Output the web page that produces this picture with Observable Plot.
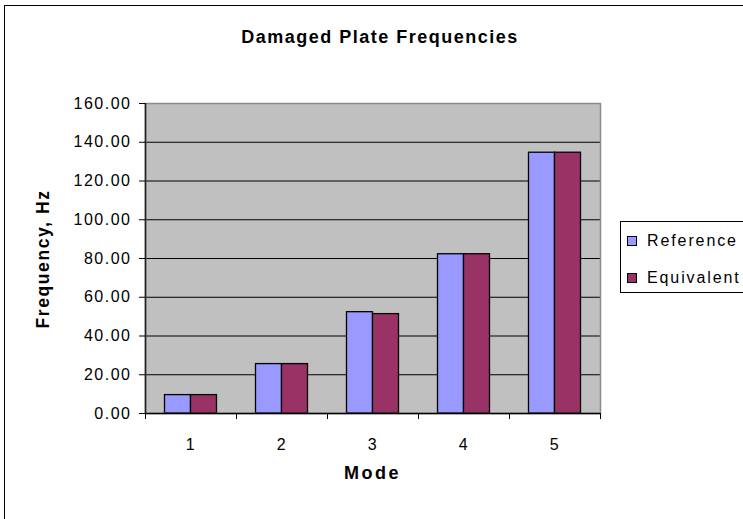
<!DOCTYPE html>
<html>
<head>
<meta charset="utf-8">
<script src="https://cdn.jsdelivr.net/npm/d3@7"></script>
<script src="https://cdn.jsdelivr.net/npm/@observablehq/plot@0.6"></script>
<style>
  html, body { margin: 0; padding: 0; background: #fff; }
  #wrap { position: relative; width: 743px; height: 519px; overflow: hidden; background: #fff;
          font-family: "Liberation Sans", Arial, sans-serif; color: #000; }
  #border { position: absolute; left: 4px; top: 5px; width: 800px; height: 600px; border: 1px solid #000; box-sizing: border-box; }
  #chart { position: absolute; left: 0; top: 0; }
  .title { position: absolute; left: 180px; width: 400px; top: 28px; text-align: center;
           font-weight: bold; font-size: 18px; line-height: 18px; letter-spacing: 1.5px; white-space: nowrap; }
  .xtitle { position: absolute; left: 272.5px; width: 200px; top: 464px; text-align: center;
            font-weight: bold; font-size: 18px; line-height: 18px; letter-spacing: 2.5px; white-space: nowrap; }
  .ytitle { position: absolute; left: 42.5px; top: 259px; width: 200px; height: 18px; line-height: 18px;
            text-align: center; font-weight: bold; font-size: 17.5px; letter-spacing: 1.6px; white-space: nowrap;
            transform: translate(-50%, -50%) rotate(-90deg); }
  #legend { position: absolute; left: 620px; top: 221px; width: 160px; height: 72px; border: 1px solid #000;
            box-sizing: border-box; background: #fff; }
  .item { position: absolute; left: 6px; height: 16px; font-size: 16px; line-height: 16px; letter-spacing: 1.9px; white-space: nowrap; }
  .sw { display: inline-block; width: 10px; height: 10px; border: 1px solid #000; box-sizing: border-box;
        vertical-align: 0px; margin-right: 10px; }
</style>
</head>
<body>
<div id="wrap">
  <div id="border"></div>
  <div id="chart"></div>
  <div class="title" id="title"></div>
  <div class="ytitle" id="ytitle"></div>
  <div class="xtitle" id="xtitle"></div>
  <div id="legend"></div>
</div>
<script>
// ---- data ----
const chartTitle = "Damaged Plate Frequencies";
const xTitle = "Mode";
const yTitle = "Frequency, Hz";
const modes = [1, 2, 3, 4, 5];
const reference = [9.5, 25.5, 52.3, 82.2, 134.6];
const equivalent = [9.5, 25.5, 51.3, 82.2, 134.6];
const seriesNames = ["Reference", "Equivalent"];
const seriesColors = ["#9999FF", "#993366"];
const yTicks = [0, 20, 40, 60, 80, 100, 120, 140, 160];

// ---- table ----
const seriesValues = [reference, equivalent];
const rows = [];
seriesNames.forEach((s, i) => {
  modes.forEach((m, j) => rows.push({mode: m, series: s, idx: i, value: seriesValues[i][j]}));
});
const half = 26 / 91; // each bar's share of a category
const boundaries = [modes[0] - 0.5, ...modes.map(m => m + 0.5)];

const plot = Plot.plot({
  width: 743,
  height: 519,
  marginLeft: 145,
  marginRight: 143,
  marginTop: 103,
  marginBottom: 106,
  style: {fontFamily: "'Liberation Sans', Arial, sans-serif", fontSize: "16px", letterSpacing: "1.5px", color: "#000", background: "transparent", overflow: "visible"},
  x: {type: "linear", domain: [boundaries[0], boundaries[boundaries.length - 1]]},
  y: {domain: [0, 160]},
  color: {domain: seriesNames, range: seriesColors},
  marks: [
    Plot.frame({fill: "#C0C0C0"}),
    Plot.ruleY(yTicks.slice(1, -1), {stroke: "#000", strokeWidth: 1}),
    Plot.rect(rows, {
      x1: d => d.mode + (d.idx - 1) * half,
      x2: d => d.mode + d.idx * half,
      y1: 0,
      y2: "value",
      fill: "series",
      stroke: "#000",
      strokeWidth: 1.3
    }),
    Plot.frame({stroke: "#8c8c8c", strokeWidth: 1.5}),
    Plot.ruleX([boundaries[0]], {stroke: "#222", strokeWidth: 1.6}),
    Plot.ruleY([0], {stroke: "#000", strokeWidth: 1.3}),
    Plot.axisY({ticks: yTicks, tickFormat: d => d.toFixed(2), tickSize: 6, tickPadding: 8, label: null, fontSize: 16}),
    Plot.axisX({ticks: boundaries, tickFormat: () => "", tickSize: 6, label: null}),
    Plot.axisX({ticks: modes, tickFormat: d => String(d), tickSize: 0, tickPadding: 25, label: null, fontSize: 16})
  ]
});
document.getElementById("chart").appendChild(plot);

document.getElementById("title").textContent = chartTitle;
document.getElementById("xtitle").textContent = xTitle;
document.getElementById("ytitle").textContent = yTitle;

const legend = document.getElementById("legend");
seriesNames.forEach((s, i) => {
  const item = document.createElement("div");
  item.className = "item";
  item.style.top = (11 + i * 36.5) + "px";
  const sw = document.createElement("span");
  sw.className = "sw";
  sw.style.background = seriesColors[i];
  item.appendChild(sw);
  item.appendChild(document.createTextNode(s));
  legend.appendChild(item);
});
</script>
</body>
</html>
